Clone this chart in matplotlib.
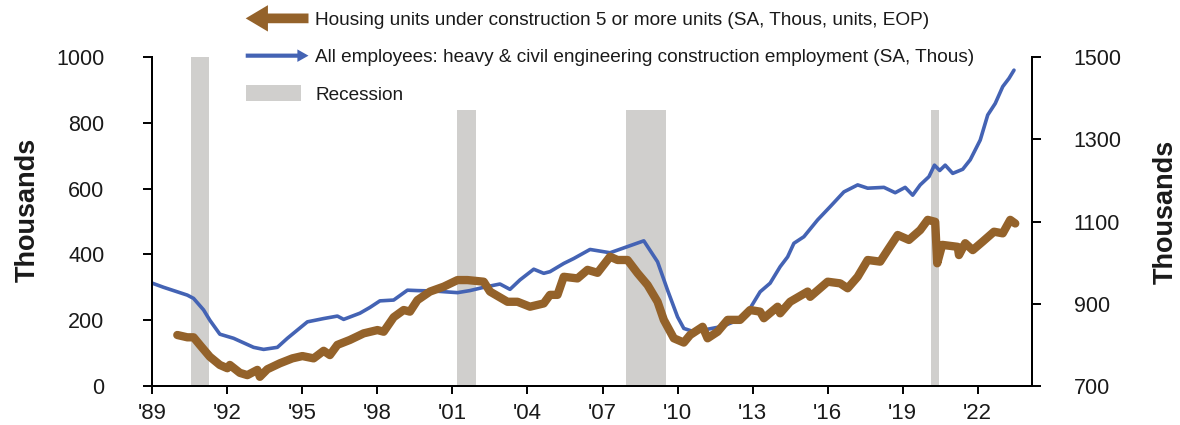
import matplotlib
matplotlib.use("Agg")
import matplotlib.pyplot as plt
from matplotlib.patches import FancyArrow, Rectangle, Patch
from matplotlib.legend_handler import HandlerBase
from matplotlib.lines import Line2D

# ---------------- data ----------------
housing = [
    (1990.0, 155), (1990.4, 148), (1990.65, 148), (1990.9, 125), (1991.3, 89),
    (1991.7, 64), (1992.0, 54), (1992.1, 64), (1992.5, 40), (1992.8, 33),
    (1993.2, 49), (1993.3, 28), (1993.6, 51), (1994.1, 69), (1994.6, 84),
    (1995.0, 91), (1995.45, 84), (1995.85, 107), (1996.1, 94), (1996.4, 125),
    (1996.9, 140), (1997.45, 160), (1998.0, 170), (1998.25, 165), (1998.65, 209),
    (1999.05, 231), (1999.3, 226), (1999.6, 261), (2000.1, 287), (2000.65, 302),
    (2001.2, 322), (2001.6, 322), (2002.25, 317), (2002.5, 287), (2003.2, 256),
    (2003.6, 256), (2004.1, 241), (2004.65, 251), (2004.9, 277), (2005.2, 277),
    (2005.45, 332), (2006.0, 327), (2006.4, 353), (2006.8, 344), (2007.3, 393),
    (2007.6, 383), (2008.0, 383), (2008.4, 343), (2008.8, 307), (2009.2, 256),
    (2009.45, 201), (2009.85, 145), (2010.25, 132), (2010.5, 155), (2011.0, 180),
    (2011.2, 145), (2011.6, 165), (2012.0, 201), (2012.5, 201), (2012.9, 231),
    (2013.3, 226), (2013.45, 206), (2014.0, 241), (2014.1, 221), (2014.5, 256),
    (2015.2, 287), (2015.3, 271), (2016.0, 317), (2016.5, 312), (2016.8, 297),
    (2017.2, 332), (2017.6, 383), (2018.1, 378), (2018.4, 413), (2018.8, 459),
    (2019.25, 444), (2019.7, 474), (2020.0, 505), (2020.3, 499), (2020.38, 373),
    (2020.58, 429), (2021.2, 423), (2021.25, 398), (2021.5, 434), (2021.8, 413),
    (2022.2, 439), (2022.65, 469), (2023.0, 464), (2023.3, 505), (2023.5, 494),
]

employment = [
    (1989.0, 950), (1989.45, 940), (1990.0, 929), (1990.4, 921), (1990.65, 913),
    (1991.05, 885), (1991.3, 860), (1991.7, 826), (1992.25, 816), (1992.65, 805),
    (1993.05, 794), (1993.45, 789), (1994.0, 794), (1994.4, 816), (1995.2, 856),
    (1995.85, 864), (1996.4, 870), (1996.65, 862), (1997.3, 877), (1997.7, 891),
    (1998.1, 907), (1998.65, 909), (1999.2, 933), (1999.6, 932), (2000.25, 931),
    (2001.2, 927), (2001.7, 932), (2002.25, 940), (2002.9, 948), (2003.3, 935),
    (2003.7, 958), (2004.25, 984), (2004.65, 974), (2004.9, 978), (2005.45, 998),
    (2005.85, 1010), (2006.5, 1032), (2007.3, 1024), (2008.0, 1039), (2008.65, 1053),
    (2009.2, 1002), (2009.6, 933), (2010.0, 868), (2010.25, 840), (2010.65, 832),
    (2011.2, 838), (2011.8, 845), (2012.4, 860), (2012.9, 889), (2013.3, 929),
    (2013.7, 950), (2014.1, 990), (2014.4, 1014), (2014.65, 1047), (2015.05, 1063),
    (2015.6, 1104), (2016.1, 1136), (2016.65, 1172), (2017.2, 1189), (2017.6, 1181),
    (2018.25, 1183), (2018.7, 1170), (2019.1, 1183), (2019.4, 1164), (2019.7, 1189),
    (2020.05, 1209), (2020.27, 1237), (2020.48, 1224), (2020.7, 1237), (2021.0, 1217),
    (2021.4, 1227), (2021.7, 1250), (2022.1, 1298), (2022.4, 1359), (2022.7, 1387),
    (2023.0, 1428), (2023.25, 1448), (2023.45, 1468),
]

recessions = [(1990.55, 1991.25), (2001.18, 2001.93), (2007.95, 2009.55), (2020.15, 2020.45)]

xtick_years = [1989, 1992, 1995, 1998, 2001, 2004, 2007, 2010, 2013, 2016, 2019, 2022]
xtick_labels = ["'89", "'92", "'95", "'98", "'01", "'04", "'07", "'10", "'13", "'16", "'19", "'22"]
left_ticks = [0, 200, 400, 600, 800, 1000]
right_ticks = [700, 900, 1100, 1300, 1500]

label_housing = "Housing units under construction 5 or more units (SA, Thous, units, EOP)"
label_emp = "All employees: heavy & civil engineering construction employment (SA, Thous)"
label_rec = "Recession"

BROWN = "#94622a"
BLUE = "#4463b4"
GREY = "#d0cfcd"
TXT = "#1a1a1a"

NARROW = ["Liberation Sans Narrow", "Liberation Sans", "DejaVu Sans"]
SANS = ["Liberation Sans", "DejaVu Sans"]

W, H = 1180, 425

# ---------------- figure ----------------
fig = plt.figure(figsize=(W / 100, H / 100), dpi=100)
ax = fig.add_axes([152.3 / W, 39 / H, (1031.5 - 152.3) / W, (386 - 57) / H])
ax2 = ax.twinx()

# ax2 (blue, right axis) drawn below; ax (brown, left axis) on top
ax.set_zorder(ax2.get_zorder() + 1)
ax.patch.set_visible(False)

for a, b in recessions:
    ax2.axvspan(a, b, color=GREY, lw=0, zorder=0)

ex, ey = zip(*employment)
ax2.plot(ex, ey, color=BLUE, lw=2.6, solid_capstyle="round", solid_joinstyle="round", zorder=2)

hx, hy = zip(*housing)
ax.plot(hx, hy, color=BROWN, lw=6.0, solid_capstyle="round", solid_joinstyle="round", zorder=3)

ax.set_xlim(1989.0, 2024.15)
ax.set_ylim(0, 1000)
ax2.set_ylim(700, 1500)

ax.set_xticks(xtick_years)
ax.set_xticklabels(xtick_labels, family=NARROW, fontsize=16, color=TXT)
ax.set_yticks(left_ticks)
ax.set_yticklabels([str(v) for v in left_ticks], family=SANS, fontsize=15.5, color=TXT)
ax2.set_yticks(right_ticks)
ax2.set_yticklabels([str(v) for v in right_ticks], family=SANS, fontsize=15.5, color=TXT)

for a in (ax, ax2):
    a.spines["top"].set_visible(False)
    for s in ("left", "right", "bottom"):
        a.spines[s].set_linewidth(1.4)
        a.spines[s].set_color("black")

ax.tick_params(axis="x", direction="out", length=6, width=1.4, pad=6)
ax.tick_params(axis="y", direction="out", length=6.5, width=1.4, pad=28)
ax2.tick_params(axis="y", direction="out", length=6.5, width=1.4, pad=24)

ax.set_ylabel("Thousands", family=SANS, fontsize=19.5, fontweight="bold", color=TXT)
ax2.set_ylabel("Thousands", family=SANS, fontsize=19.5, fontweight="bold", color=TXT)
ax.yaxis.set_label_coords(-(152.3 - 28) / (1031.5 - 152.3), (386 - 210) / 329)
ax2.yaxis.set_label_coords(1 + (1166 - 1031.5) / (1031.5 - 152.3), (386 - 212) / 329)
ax.yaxis.label.set_va("center")
ax2.yaxis.label.set_va("center")

# white legend background covering the recession bars under the legend
fig.patches.append(Rectangle((240 / W, 1 - 110 / H), (965 - 240) / W, 110 / H,
                             transform=fig.transFigure, facecolor="white",
                             edgecolor="none", zorder=5))


# ---------------- legend ----------------
class ArrowHandler(HandlerBase):
    def __init__(self, direction, color, shaft, head_w, head_l):
        super().__init__()
        self.direction = direction
        self.color = color
        self.shaft = shaft
        self.head_w = head_w
        self.head_l = head_l

    def create_artists(self, legend, orig_handle, xdescent, ydescent, width, height, fontsize, trans):
        y = height / 2 - ydescent
        x0 = -xdescent
        if self.direction == "left":
            start, dx = x0 + width, -width
        else:
            start, dx = x0, width
        arr = FancyArrow(start, y, dx, 0, width=self.shaft, head_width=self.head_w,
                         head_length=self.head_l, length_includes_head=True,
                         color=self.color, lw=0, transform=trans)
        return [arr]


class RectHandler(HandlerBase):
    def __init__(self, color, h):
        super().__init__()
        self.color = color
        self.h = h

    def create_artists(self, legend, orig_handle, xdescent, ydescent, width, height, fontsize, trans):
        y = height / 2 - ydescent
        r = Rectangle((-xdescent, y - self.h / 2), width * 0.88, self.h, color=self.color, lw=0, transform=trans)
        return [r]


h_house = Line2D([], [], color=BROWN)
h_emp = Line2D([], [], color=BLUE)
h_rec = Patch(color=GREY)

leg = fig.legend(
    [h_house, h_emp, h_rec], [label_housing, label_emp, label_rec],
    handler_map={
        h_house: ArrowHandler("left", BROWN, 7, 19, 16),
        h_emp: ArrowHandler("right", BLUE, 3.0, 9, 8),
        h_rec: RectHandler(GREY, 11),
    },
    loc="upper left", bbox_to_anchor=(240 / W, 1 - 6 / H),
    prop={"family": NARROW, "size": 13.7},
    frameon=False,
    handlelength=3.3, handletextpad=0.35, labelspacing=1.05, borderpad=0.3,
    borderaxespad=0.0,
)
for t in leg.get_texts():
    t.set_color(TXT)
leg.set_zorder(20)

fig.savefig("out.png", dpi=100, facecolor="white")
